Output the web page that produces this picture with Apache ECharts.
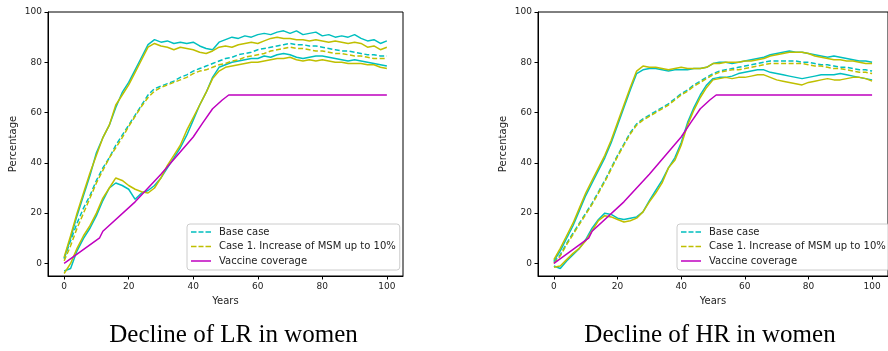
<!DOCTYPE html>
<html>
<head>
<meta charset="utf-8">
<script src="https://cdn.jsdelivr.net/npm/echarts@6/dist/echarts.min.js"></script>
<style>
  html, body { margin: 0; padding: 0; background: #fff; }
  #chart { width: 888px; height: 351px; }
</style>
</head>
<body>
<div id="chart"></div>
<script>
const years = [0, 2, 4, 6, 8, 10, 12, 14, 16, 18, 20, 22, 24, 26, 28, 30, 32, 34, 36, 38, 40, 42, 44, 46, 48, 50,
  52, 54, 56, 58, 60, 62, 64, 66, 68, 70, 72, 74, 76, 78, 80, 82, 84, 86, 88, 90, 92, 94, 96, 98, 100];
const tickValues = [0, 20, 40, 60, 80, 100];

// Decline of LR in women
const lrBaseHigh = [2, 10, 19, 27, 35, 44, 50, 55, 62, 68, 72, 77, 82, 87, 89, 88, 88.5, 87.5, 88, 87.5, 88, 86.5, 85.5, 85, 88, 89,
  90, 89.5, 90.5, 90, 91, 91.5, 91, 92, 92.5, 91.5, 92.5, 91, 91.5, 92, 90.5, 91, 90, 90.5, 90, 91, 89.5, 88.5, 89, 87.5, 88.5];
const lrBaseMean = [2, 9, 16, 22, 27, 33, 38, 42, 47, 51, 55, 59, 63, 67, 69.5, 70.5, 71.5, 72.5, 74, 75, 76.5, 77.5, 78.5, 79.5, 80.5, 81.5,
  82, 83, 83.5, 84, 85, 85.5, 86, 86.5, 87, 87.5, 87, 87, 86.5, 86.5, 86, 85.5, 85, 84.5, 84.5, 84, 83.5, 83, 83, 82.5, 82.5];
const lrBaseLow = [-3, -2, 5, 10, 14, 19, 25, 30, 32, 31, 29.5, 25.5, 28, 29, 31, 34, 38, 42, 46, 51, 57, 63, 68, 74, 78, 79,
  80, 80.5, 81, 81.5, 81.5, 82.5, 82, 83, 83.5, 83, 82, 81.5, 82, 82.5, 82.5, 82, 81.5, 81, 80.5, 81, 80.5, 80, 79.5, 79, 78.5];
const lrCase1High = [2.5, 11, 20, 28, 36, 43, 50, 55, 63, 67, 71, 76, 81, 86, 87.5, 86.5, 86, 85, 86, 85.5, 85, 84, 83.5, 84.5, 86, 86.5,
  86, 87, 87.5, 88, 87.5, 88.5, 89.5, 90, 89.5, 89.5, 89, 89, 88.5, 89, 88.5, 88, 88.5, 88, 87.5, 88, 87.5, 86, 86.5, 85, 86];
const lrCase1Mean = [1, 7, 14, 20, 26, 32, 37, 42, 46, 50, 54.5, 58.5, 62.5, 66, 68.5, 70, 71, 72, 73, 74, 75.5, 76.5, 77, 78, 79, 79.5,
  80.5, 81, 82, 82.5, 83, 83.5, 84.5, 85, 85.5, 86, 85.5, 85.5, 85, 84.5, 84.5, 84, 83.5, 83.5, 83, 82.5, 82.5, 82, 81.5, 81.5, 81.5];
const lrCase1Low = [-4, 0, 6, 11, 15, 20, 26, 30, 34, 33, 31, 29.5, 28.5, 28, 30, 34, 39, 43, 47, 53, 58, 63, 68, 73.5, 76.5, 78,
  78.5, 79, 79.5, 80, 80, 80.5, 81, 81.5, 81.5, 82, 81, 80.5, 81, 80.5, 81, 80.5, 80, 80, 79.5, 79.5, 79.5, 79, 79, 78, 77.5];

// Decline of HR in women
const hrBaseHigh = [1, 5, 10, 15, 21, 27, 32, 37, 42, 48, 55, 62, 69, 75.5, 77, 77.5, 77.5, 77, 76.5, 77, 77, 77, 77.5, 77.5, 78, 79.5,
  80, 80, 79.5, 80, 80.5, 81, 81.5, 82, 83, 83.5, 84, 84.5, 84, 84, 83.5, 83, 82.5, 82, 82.5, 82, 81.5, 81, 80.5, 80.5, 80];
const hrBaseMean = [0.5, 3.5, 8, 12, 16, 20, 24, 28.5, 33, 38, 43, 47.5, 52, 55.5, 57.5, 59, 60.5, 62, 63.5, 65.5, 67.5, 69, 71, 72.5, 74, 75.5,
  76.5, 77, 77.5, 78, 78.5, 79, 79.5, 80, 80.5, 80.5, 80.5, 80.5, 80.5, 80, 80, 79.5, 79, 79, 78.5, 78, 78, 77.5, 77, 77, 76.5];
const hrBaseLow = [-1, -2, 1, 3.5, 6, 9.5, 14, 17.5, 20, 19.5, 18, 17.5, 18, 18.5, 20.5, 25, 29, 33, 38, 42, 48, 56, 62, 67, 71, 73.5,
  74, 74, 74.5, 75.5, 76, 76.5, 77, 77, 76, 75.5, 75, 74.5, 74, 73.5, 74, 74.5, 75, 75, 75, 75.5, 75, 74.5, 74, 73.5, 73];
const hrCase1High = [1.5, 6, 11, 16, 22, 28, 33, 38, 43, 49, 56, 63, 70, 76.5, 78.5, 78, 78, 77.5, 77, 77.5, 78, 77.5, 77.5, 77.5, 78, 79.5,
  79.5, 80, 80, 80, 80.5, 80.5, 81, 81.5, 82.5, 83, 83.5, 84, 84, 84, 83.5, 82.5, 82, 81.5, 81, 81, 80.5, 80.5, 80, 79.5, 79.5];
const hrCase1Mean = [0, 3, 7.5, 11.5, 15.5, 19.5, 23.5, 28, 32.5, 37.5, 42.5, 47, 51.5, 55, 57, 58.5, 60, 61.5, 63, 65, 67, 68.5, 70.5, 72, 73.5, 75,
  76, 76.5, 77, 77, 77.5, 78, 78.5, 79, 79.5, 79.5, 79.5, 79.5, 79.5, 79.5, 79, 78.5, 78.5, 78, 77.5, 77.5, 77, 76.5, 76, 76, 75.5];
const hrCase1Low = [-1.5, -1, 1.5, 4, 6, 9, 13, 17, 19, 18.5, 17.5, 16.5, 17, 18, 20.5, 24.5, 28, 32, 38, 41, 47, 55, 61, 66, 70, 73,
  73.5, 74, 73.5, 74, 74, 74.5, 75, 75, 74, 73, 72.5, 72, 71.5, 71, 72, 72.5, 73, 73.5, 73, 73, 73.5, 74, 74, 73.5, 72.5];

// vaccine coverage (same in both panels)
const vaccineYears = [0, 11, 12, 22, 30, 40, 43, 46, 49, 51, 100];
const vaccineValues = [0, 10.2, 12.8, 24.5, 35.5, 50.3, 56, 61.5, 65, 67, 67];

const CYAN = '#00bfbf';
const OLIVE = '#bfbf00';
const MAGENTA = '#bf00bf';
const NAME_BASE = 'Base case';
const NAME_CASE1 = 'Case 1. Increase of MSM up to 10%';
const NAME_VAC = 'Vaccine coverage';

// legend glyphs: a dashed and a solid line segment, 20 x 1.5
const DASH_ICON = 'path://M0,0h5.5v1.5h-5.5z M7.5,0h5v1.5h-5z M14.5,0h5.5v1.5h-5.5z';
const SOLID_ICON = 'path://M0,0h20v1.5h-20z';

const pairs = (xs, ys) => xs.map((x, i) => [x, ys[i]]);

const lineSeries = (name, data, color, dashed, idx) => ({
  name: name,
  type: 'line',
  xAxisIndex: idx,
  yAxisIndex: idx,
  data: data,
  symbol: 'none',
  silent: true,
  animation: false,
  lineStyle: { color: color, width: 1.5, type: dashed ? [5, 2.5] : 'solid' },
  itemStyle: { color: color },
});

const panelSeries = (idx, bHi, bMean, bLo, cHi, cMean, cLo) => [
  lineSeries(NAME_BASE + ' hi', pairs(years, bHi), CYAN, false, idx),
  lineSeries(NAME_BASE, pairs(years, bMean), CYAN, true, idx),
  lineSeries(NAME_BASE + ' lo', pairs(years, bLo), CYAN, false, idx),
  lineSeries(NAME_CASE1 + ' hi', pairs(years, cHi), OLIVE, false, idx),
  lineSeries(NAME_CASE1, pairs(years, cMean), OLIVE, true, idx),
  lineSeries(NAME_CASE1 + ' lo', pairs(years, cLo), OLIVE, false, idx),
  lineSeries(NAME_VAC, pairs(vaccineYears, vaccineValues), MAGENTA, false, idx),
];

const tickFont = { fontFamily: 'DejaVu Sans', fontSize: 9, color: '#222' };
const labelFont = { fontFamily: 'DejaVu Sans', fontSize: 10, color: '#222' };

const xAxisFor = (idx) => ({
  gridIndex: idx,
  type: 'value',
  min: -5,
  max: 105,
  axisLine: { show: true, onZero: false, lineStyle: { color: '#000', width: 1 } },
  axisTick: { show: true, length: 3.5, customValues: tickValues, lineStyle: { color: '#000' } },
  axisLabel: Object.assign({ customValues: tickValues, margin: 6 }, tickFont),
  splitLine: { show: false },
  name: 'Years',
  nameLocation: 'middle',
  nameGap: 20,
  nameTextStyle: labelFont,
});

const yAxisFor = (idx) => ({
  gridIndex: idx,
  type: 'value',
  min: -5,
  max: 100,
  axisLine: { show: true, onZero: false, lineStyle: { color: '#000', width: 1 } },
  axisTick: { show: true, length: 3.5, customValues: tickValues, lineStyle: { color: '#000' } },
  axisLabel: Object.assign({ customValues: tickValues, margin: 6 }, tickFont),
  splitLine: { show: false },
  name: 'Percentage',
  nameLocation: 'middle',
  nameGap: 30,
  nameTextStyle: labelFont,
});

const legendFor = (left) => ({
  left: left,
  top: 224,
  orient: 'vertical',
  itemWidth: 20,
  itemHeight: 10,
  itemGap: 4.5,
  padding: [3, 4, 4, 4],
  borderColor: '#ccc',
  borderWidth: 1,
  borderRadius: 3,
  backgroundColor: 'rgba(255,255,255,0.8)',
  selectedMode: false,
  textStyle: Object.assign({ padding: [0, 0, 0, 3] }, labelFont),
  data: [
    { name: NAME_BASE, icon: DASH_ICON },
    { name: NAME_CASE1, icon: DASH_ICON },
    { name: NAME_VAC, icon: SOLID_ICON },
  ],
});

const chart = echarts.init(document.getElementById('chart'));
chart.setOption({
  animation: false,
  grid: [
    { left: 48, top: 12, width: 355, height: 264, show: true, borderColor: '#000', borderWidth: 1 },
    { left: 538, top: 12, width: 356, height: 264, show: true, borderColor: '#000', borderWidth: 1 },
  ],
  xAxis: [xAxisFor(0), xAxisFor(1)],
  yAxis: [yAxisFor(0), yAxisFor(1)],
  legend: [legendFor(187), legendFor(677)],
  graphic: [
    { type: 'text', x: 233.5, y: 335, style: { text: 'Decline of LR in women', textAlign: 'center', textVerticalAlign: 'middle',
      font: '25px "Liberation Serif"', fill: '#000' } },
    { type: 'text', x: 710, y: 335, style: { text: 'Decline of HR in women', textAlign: 'center', textVerticalAlign: 'middle',
      font: '25px "Liberation Serif"', fill: '#000' } },
  ],
  series: [
    ...panelSeries(0, lrBaseHigh, lrBaseMean, lrBaseLow, lrCase1High, lrCase1Mean, lrCase1Low),
    ...panelSeries(1, hrBaseHigh, hrBaseMean, hrBaseLow, hrCase1High, hrCase1Mean, hrCase1Low),
  ],
});
</script>
</body>
</html>
